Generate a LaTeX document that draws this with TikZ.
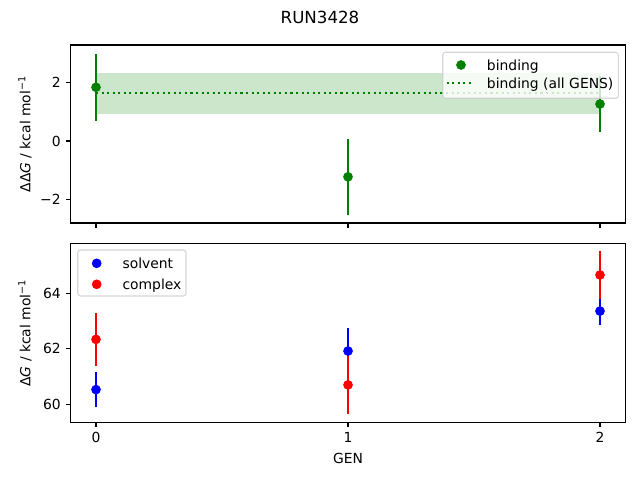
\documentclass[tikz,border=0pt]{standalone}
\usepackage{fontspec}
\setmainfont{DejaVu Sans}
\usetikzlibrary{positioning}
\definecolor{mplgreen}{RGB}{0,128,0}
\definecolor{mplblue}{RGB}{0,0,255}
\definecolor{mplred}{RGB}{255,0,0}
\definecolor{framegray}{RGB}{204,204,204}
\tikzset{
    axisframe/.style={draw=black, line width=0.8pt},
    tickmark/.style={line width=0.8pt},
    ticklabel/.style={font=\fontsize{10}{12}\selectfont, inner sep=0pt},
    axislabel/.style={font=\fontsize{10}{12}\selectfont, inner sep=0pt},
    legendtext/.style={font=\fontsize{10}{12}\selectfont, inner sep=0pt, anchor=base west},
    legendbox/.style={draw=framegray, fill=white, opacity=0.8, rounded corners=2pt, line width=0.8pt},
    errbar/.style={line width=1.5pt},
    datapoint/.style={circle, fill=#1, inner sep=0pt, minimum size=7pt},
    meanline/.style={mplgreen, line width=1.5pt, dash pattern=on 1.5pt off 2.5pt}
}

\begin{document}
\begin{tikzpicture}[x=0.72pt,y=-0.72pt]
    \useasboundingbox (0,0) rectangle (640,480);
    \node[font=\fontsize{12}{14}\selectfont, anchor=north, inner sep=0pt] (title) at (320,11) {RUN3428};

    % top panel: binding free energy
    \begin{scope}[shift={(96,141)}, x=181.44pt, y=21.13pt]
        \fill[mplgreen, opacity=0.2] (0,0.94) rectangle (2,2.29);
        \draw[mplgreen, opacity=0.2, line width=1pt] (0,0.94) rectangle (2,2.29);
        \draw[meanline] (0,1.65) -- (2,1.65);
        \foreach \g/\v/\e in {0/1.83/1.14, 1/-1.22/1.30, 2/1.26/0.96} {
            \draw[errbar, mplgreen] (\g,\v-\e) -- (\g,\v+\e);
            \node[datapoint=mplgreen] (bind\g) at (\g,\v) {};
        }
    \end{scope}
    \draw[axisframe] (70.8,45) rectangle (625.2,223);
    \foreach \x in {96,348,600}
        \draw[tickmark] (\x,223) -- (\x,227.9);
    \foreach \y/\lbl in {82.3/2, 141/0, 199.7/{−2}} {
        \draw[tickmark] (70.8,\y) -- (65.9,\y);
        \node[ticklabel, anchor=east] at (61,\y) {\lbl};
    }
    \node[axislabel, rotate=90] (ddglabel) at (25,134) {ΔΔ\textit{G} / kcal mol\textsuperscript{−1}};

    % legend of the top panel
    \draw[legendbox] (442.7,52.3) rectangle (618.3,98.3);
    \node[datapoint=mplgreen] (bindkey) at (461,65) {};
    \node[legendtext] (bindtext) at (486.7,70) {binding};
    \draw[meanline] (446.7,83.3) -- (473.3,83.3);
    \node[legendtext] (meantext) at (486.7,88.7) {binding (all GENS)};

    % bottom panel: solvent and complex legs
    \begin{scope}[shift={(96,404.3)}, x=181.44pt, y=19.98pt, yshift=-1198.8pt]
        \foreach \g/\v/\e in {0/60.53/0.62, 1/61.92/0.84, 2/63.36/0.49} {
            \draw[errbar, mplblue] (\g,\v-\e) -- (\g,\v+\e);
            \node[datapoint=mplblue] (solv\g) at (\g,\v) {};
        }
        \foreach \g/\v/\e in {0/62.34/0.96, 1/60.70/1.04, 2/64.66/0.88} {
            \draw[errbar, mplred] (\g,\v-\e) -- (\g,\v+\e);
            \node[datapoint=mplred] (cplx\g) at (\g,\v) {};
        }
    \end{scope}
    \draw[axisframe] (70.8,243.3) rectangle (625.2,422.3);
    \foreach \x/\lbl in {96/0,348/1,600/2} {
        \draw[tickmark] (\x,422.3) -- (\x,427.2);
        \node[ticklabel, anchor=north] (gen\lbl) at (\x,432) {\lbl};
    }
    \foreach \y/\lbl in {293.3/64, 348.7/62, 404.3/60} {
        \draw[tickmark] (70.8,\y) -- (65.9,\y);
        \node[ticklabel, anchor=east] at (61,\y) {\lbl};
    }
    \node[axislabel, rotate=90] (dglabel) at (25,333) {Δ\textit{G} / kcal mol\textsuperscript{−1}};
    \node[axislabel, anchor=north] (genlabel) at (348,453) {GEN};

    % legend of the bottom panel
    \draw[legendbox] (77.7,250) rectangle (186,296);
    \node[datapoint=mplblue] (solvkey) at (96.7,263.3) {};
    \node[legendtext] (solvtext) at (122.3,268.3) {solvent};
    \node[datapoint=mplred] (cplxkey) at (96.7,284.3) {};
    \node[legendtext] (cplxtext) at (122.3,289.3) {complex};
\end{tikzpicture}
\end{document}
